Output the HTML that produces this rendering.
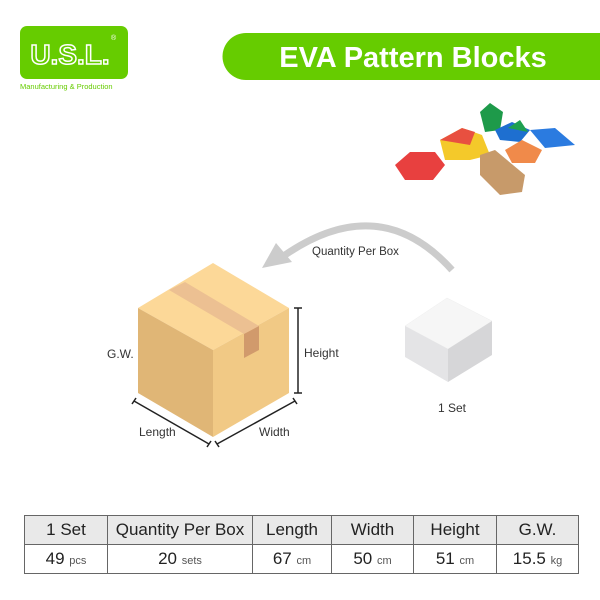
<!DOCTYPE html>
<html><head><meta charset="utf-8"><style>
body{margin:0;width:600px;height:600px;background:#fff;position:relative;overflow:hidden;font-family:"Liberation Sans",sans-serif}
.t{position:absolute;font-size:12px;color:#333}
table{position:absolute;left:24px;top:515px;border-collapse:collapse;font-size:17px;color:#222}
td{border:1.5px solid #666;text-align:center;height:28px;padding:0}
tr:first-child td{background:#e9e9e9}
small{font-size:11px;color:#555}
</style></head><body>
<svg width="600" height="600" style="position:absolute;left:0;top:0">
<rect x="20" y="26" width="108" height="53" rx="7" fill="#66cc00"/>
<text x="70" y="64" font-size="28" fill="none" stroke="#fff" stroke-width="1.5" text-anchor="middle" font-family="Liberation Sans" font-weight="bold">U.S.L.</text>
<text x="111" y="40" font-size="7" fill="#fff">®</text>
<text x="20" y="89" font-size="7.5" fill="#66cc00">Manufacturing &amp; Production</text>
<path d="M246 33 H600 V80 H246 A23.5 23.5 0 0 1 246 33Z" fill="#66cc00"/>
<text x="413" y="67" font-size="29" font-weight="bold" fill="#fff" text-anchor="middle">EVA Pattern Blocks</text>
<polygon points="395,165 410,152 435,152 445,165 433,180 405,180" fill="#e8403f"/>
<polygon points="440,140 462,128 482,135 490,155 470,160 445,160" fill="#f4c92a"/>
<polygon points="440,140 462,128 475,132 470,145" fill="#e85040"/>
<polygon points="480,112 490,103 503,112 500,130 485,132" fill="#1e9a4a"/>
<polygon points="495,130 512,122 530,130 520,142 500,140" fill="#1e6fd0"/>
<polygon points="530,130 555,128 575,145 545,148" fill="#2b7be0"/>
<polygon points="508,128 520,120 528,132" fill="#1ea050"/>
<polygon points="505,150 522,140 542,150 535,163 512,163" fill="#f08a4a"/>
<polygon points="480,155 495,150 525,175 522,192 500,195 480,175" fill="#c79a6a"/>
<path d="M452 270 Q380 190 285 255" fill="none" stroke="#ccc" stroke-width="7"/>
<polygon points="262,268 276,243 292,262" fill="#ccc"/>
<polygon points="138,308 213,263 289,308 213,350" fill="#fcd898"/>
<polygon points="138,308 213,350 213,437 138,393" fill="#e0b676"/>
<polygon points="213,350 289,308 289,393 213,437" fill="#f1c985"/>
<polygon points="169,290 185,282 259,326 244,334" fill="#ecc092"/>
<polygon points="244,334 259,326 259,350 244,358" fill="#d19a6c"/>
<g stroke="#222" stroke-width="1.5">
<line x1="298" y1="308" x2="298" y2="393"/><line x1="294" y1="308" x2="302" y2="308"/><line x1="294" y1="393" x2="302" y2="393"/>
<line x1="134" y1="401" x2="209" y2="444"/><line x1="132" y1="404" x2="136" y2="398"/><line x1="207" y1="447" x2="211" y2="441"/>
<line x1="217" y1="444" x2="295" y2="401"/><line x1="215" y1="441" x2="219" y2="447"/><line x1="293" y1="398" x2="297" y2="404"/>
</g>
<polygon points="405,326 447,298 492,321 448,349" fill="#f6f6f6" stroke="#eee" stroke-width="0.5"/>
<polygon points="405,326 448,349 448,382 405,357" fill="#e4e4e6"/>
<polygon points="448,349 492,321 492,355 448,382" fill="#d6d6d8"/>
</svg>
<div class="t" style="left:312px;top:246px;font-size:11.5px">Quantity Per Box</div>
<div class="t" style="left:107px;top:347px">G.W.</div>
<div class="t" style="left:304px;top:346px">Height</div>
<div class="t" style="left:139px;top:425px">Length</div>
<div class="t" style="left:259px;top:425px">Width</div>
<div class="t" style="left:438px;top:401px">1 Set</div>
<table>
<tr><td style="width:82px">1 Set</td><td style="width:144px">Quantity Per Box</td><td style="width:78px">Length</td><td style="width:81px">Width</td><td style="width:82px">Height</td><td style="width:81px">G.W.</td></tr>
<tr><td>49 <small>pcs</small></td><td>20 <small>sets</small></td><td>67 <small>cm</small></td><td>50 <small>cm</small></td><td>51 <small>cm</small></td><td>15.5 <small>kg</small></td></tr>
</table>
</body></html>
